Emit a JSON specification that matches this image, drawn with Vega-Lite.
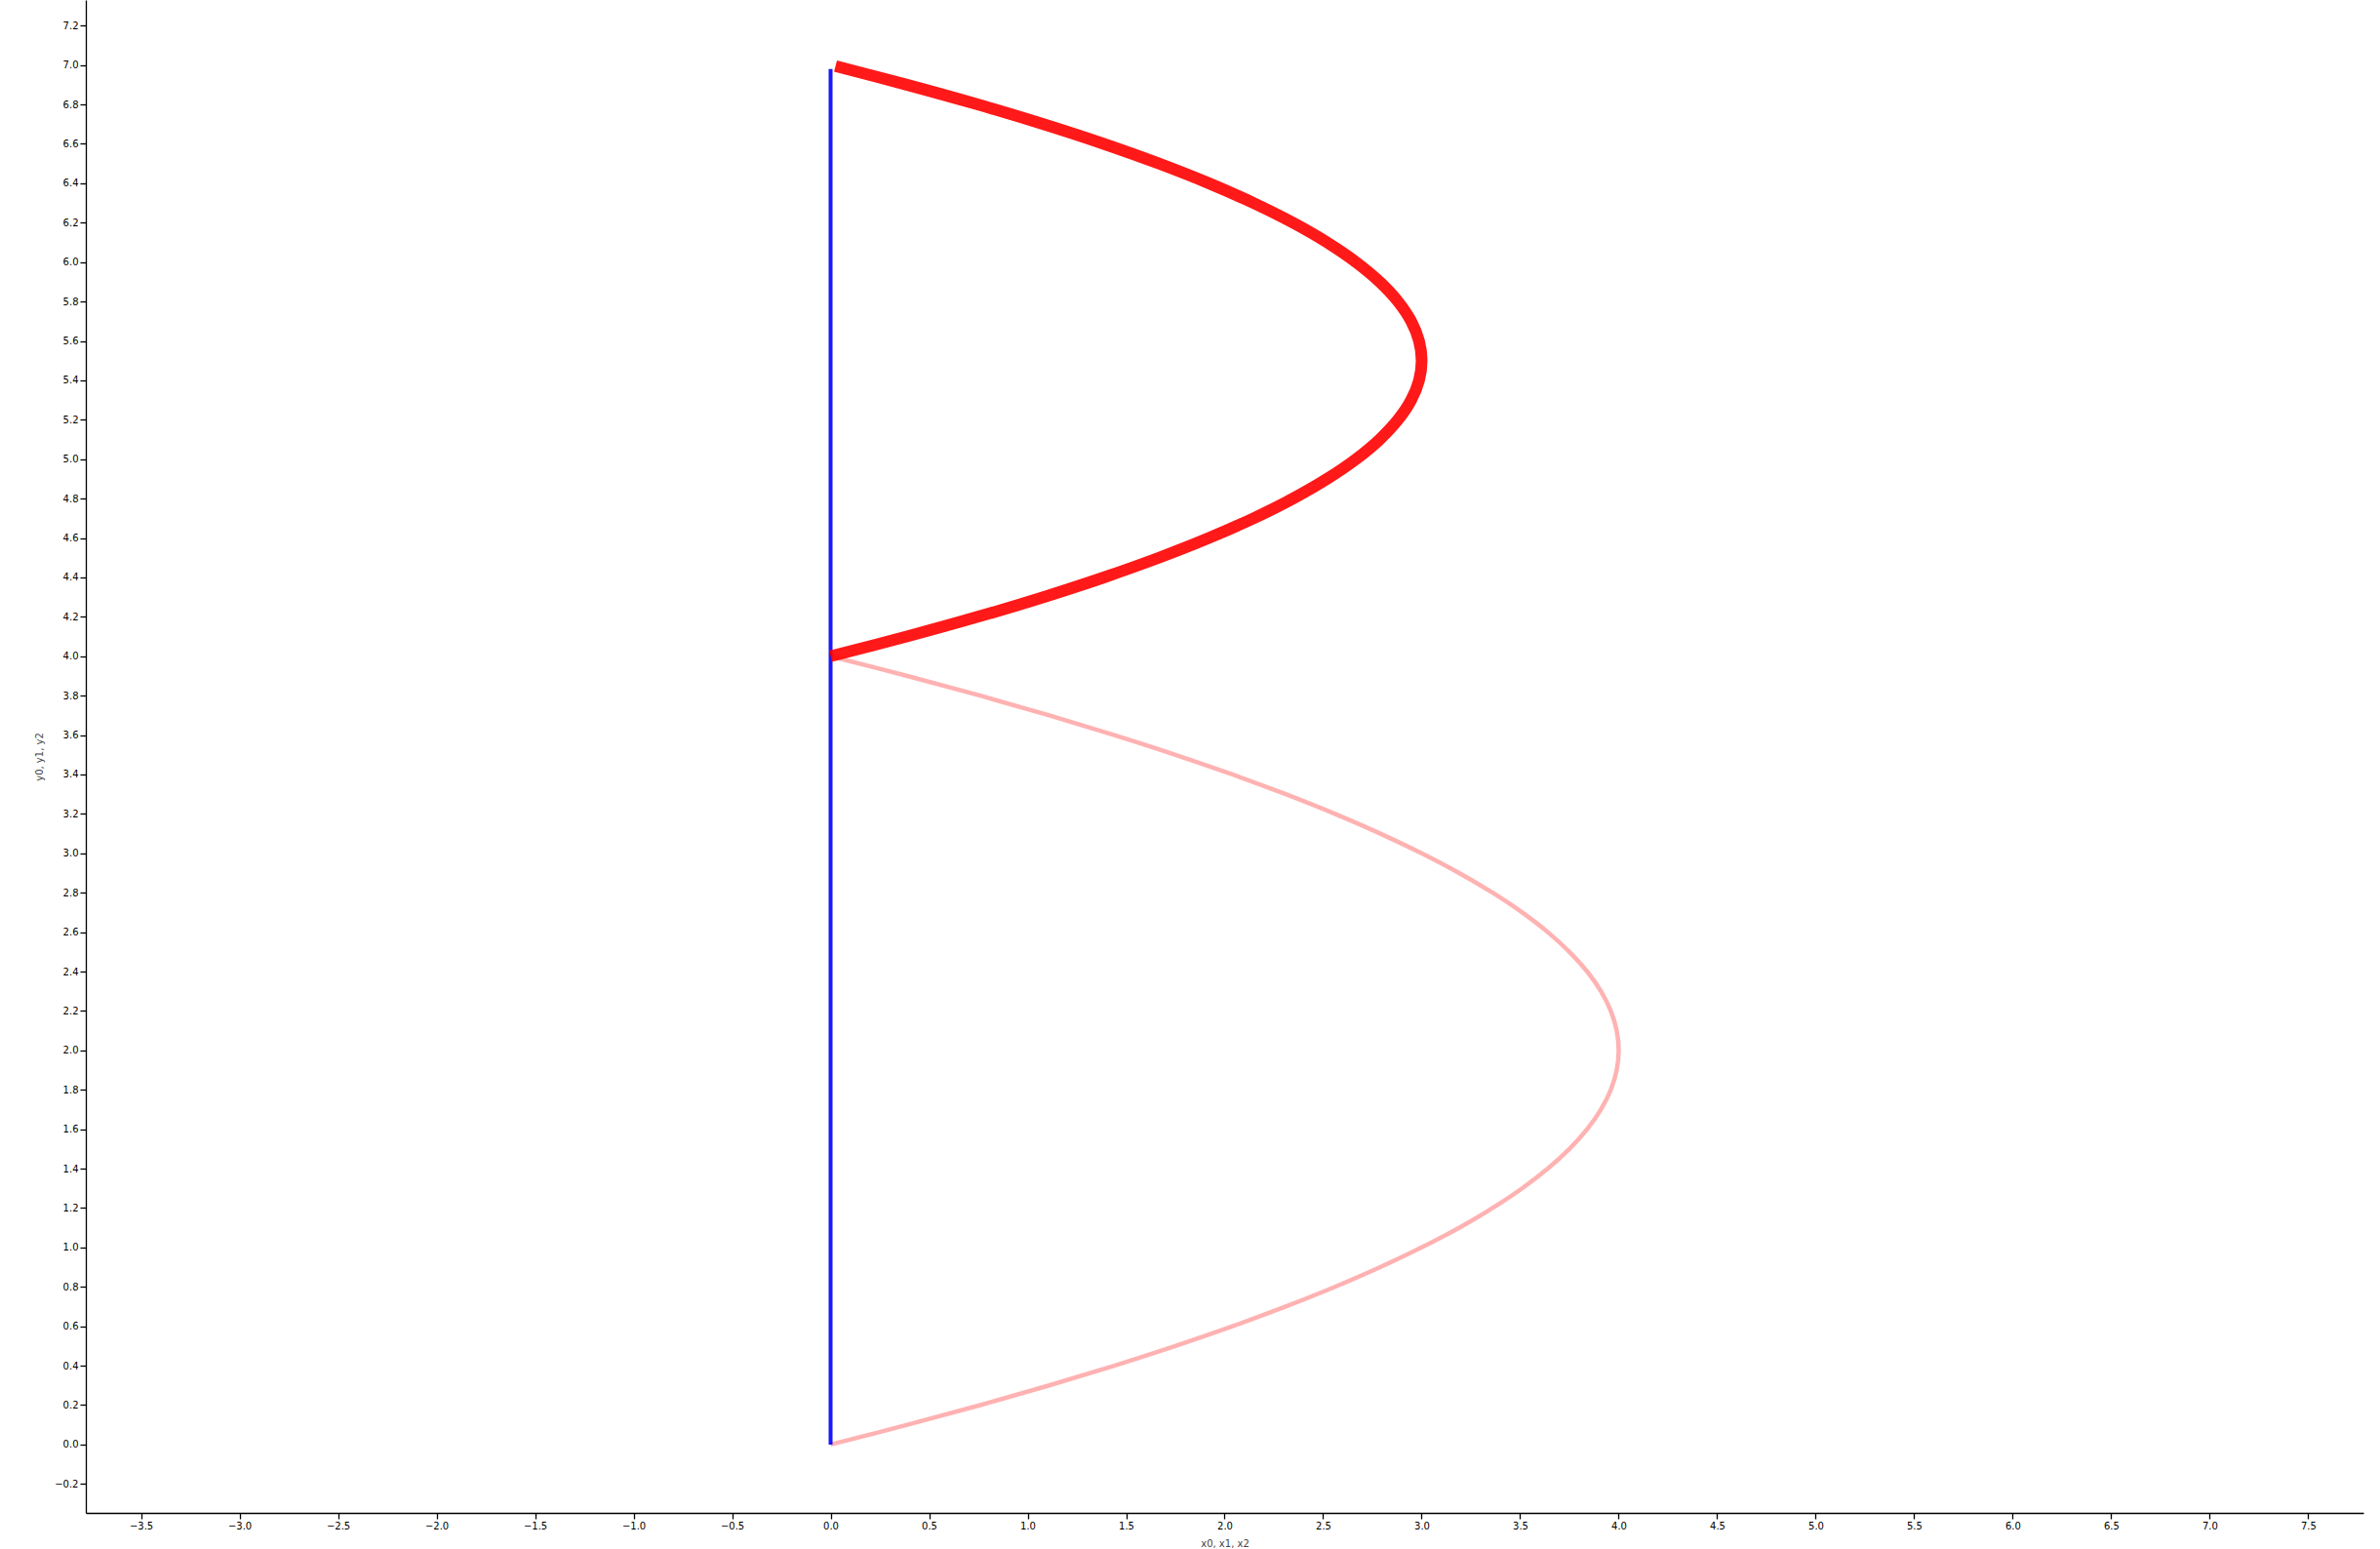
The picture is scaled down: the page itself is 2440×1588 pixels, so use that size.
{
  "$schema": "https://vega.github.io/schema/vega-lite/v6.json",
  "width": 2335,
  "height": 1551,
  "autosize": {"type": "none"},
  "padding": {"left": 88, "top": 0, "right": 17, "bottom": 37},
  "background": "white",
  "config": {
    "view": {"stroke": null},
    "axis": {
      "grid": false,
      "domainColor": "black",
      "domainWidth": 1.3,
      "tickColor": "black",
      "tickWidth": 1.3,
      "tickSize": 6,
      "labelFont": "DejaVu Sans",
      "labelFontSize": 10,
      "labelColor": "black",
      "labelPadding": 2,
      "titleFont": "DejaVu Sans",
      "titleFontSize": 10,
      "titleFontWeight": "normal",
      "titleColor": "#444444"
    }
  },
  "datasets": {
    "blue": [
      {"i": 0, "x": 0, "y": 0},
      {"i": 1, "x": 0, "y": 6.98}
    ],
    "pink": [
      {"i": 0, "x": 0, "y": 0}, {"i": 1, "x": 0.39, "y": 0.1}, {"i": 2, "x": 0.76, "y": 0.2}, {"i": 3, "x": 1.11, "y": 0.3},
      {"i": 4, "x": 1.44, "y": 0.4}, {"i": 5, "x": 1.75, "y": 0.5}, {"i": 6, "x": 2.04, "y": 0.6}, {"i": 7, "x": 2.31, "y": 0.7},
      {"i": 8, "x": 2.56, "y": 0.8}, {"i": 9, "x": 2.79, "y": 0.9}, {"i": 10, "x": 3.0, "y": 1.0}, {"i": 11, "x": 3.19, "y": 1.1},
      {"i": 12, "x": 3.36, "y": 1.2}, {"i": 13, "x": 3.51, "y": 1.3}, {"i": 14, "x": 3.64, "y": 1.4}, {"i": 15, "x": 3.75, "y": 1.5},
      {"i": 16, "x": 3.84, "y": 1.6}, {"i": 17, "x": 3.91, "y": 1.7}, {"i": 18, "x": 3.96, "y": 1.8}, {"i": 19, "x": 3.99, "y": 1.9},
      {"i": 20, "x": 4.0, "y": 2.0}, {"i": 21, "x": 3.99, "y": 2.1}, {"i": 22, "x": 3.96, "y": 2.2}, {"i": 23, "x": 3.91, "y": 2.3},
      {"i": 24, "x": 3.84, "y": 2.4}, {"i": 25, "x": 3.75, "y": 2.5}, {"i": 26, "x": 3.64, "y": 2.6}, {"i": 27, "x": 3.51, "y": 2.7},
      {"i": 28, "x": 3.36, "y": 2.8}, {"i": 29, "x": 3.19, "y": 2.9}, {"i": 30, "x": 3.0, "y": 3.0}, {"i": 31, "x": 2.79, "y": 3.1},
      {"i": 32, "x": 2.56, "y": 3.2}, {"i": 33, "x": 2.31, "y": 3.3}, {"i": 34, "x": 2.04, "y": 3.4}, {"i": 35, "x": 1.75, "y": 3.5},
      {"i": 36, "x": 1.44, "y": 3.6}, {"i": 37, "x": 1.11, "y": 3.7}, {"i": 38, "x": 0.76, "y": 3.8}, {"i": 39, "x": 0.39, "y": 3.9},
      {"i": 40, "x": 0, "y": 4.0}
    ],
    "red": [
      {"i": 0, "x": 0, "y": 4.0}, {"i": 1, "x": 0.3867, "y": 4.1}, {"i": 2, "x": 0.7467, "y": 4.2}, {"i": 3, "x": 1.08, "y": 4.3},
      {"i": 4, "x": 1.3867, "y": 4.4}, {"i": 5, "x": 1.6667, "y": 4.5}, {"i": 6, "x": 1.92, "y": 4.6}, {"i": 7, "x": 2.1467, "y": 4.7},
      {"i": 8, "x": 2.3467, "y": 4.8}, {"i": 9, "x": 2.52, "y": 4.9}, {"i": 10, "x": 2.6667, "y": 5.0}, {"i": 11, "x": 2.7867, "y": 5.1},
      {"i": 12, "x": 2.88, "y": 5.2}, {"i": 13, "x": 2.9467, "y": 5.3}, {"i": 14, "x": 2.9867, "y": 5.4}, {"i": 15, "x": 3.0, "y": 5.5},
      {"i": 16, "x": 2.9867, "y": 5.6}, {"i": 17, "x": 2.9467, "y": 5.7}, {"i": 18, "x": 2.88, "y": 5.8}, {"i": 19, "x": 2.7867, "y": 5.9},
      {"i": 20, "x": 2.6667, "y": 6.0}, {"i": 21, "x": 2.52, "y": 6.1}, {"i": 22, "x": 2.3467, "y": 6.2}, {"i": 23, "x": 2.1467, "y": 6.3},
      {"i": 24, "x": 1.92, "y": 6.4}, {"i": 25, "x": 1.6667, "y": 6.5}, {"i": 26, "x": 1.3867, "y": 6.6}, {"i": 27, "x": 1.08, "y": 6.7},
      {"i": 28, "x": 0.7467, "y": 6.8}, {"i": 29, "x": 0.3867, "y": 6.9}, {"i": 30, "x": 0.025, "y": 6.995}
    ]
  },
  "encoding": {
    "x": {
      "field": "x", "type": "quantitative",
      "scale": {"domain": [-3.78, 7.78], "nice": false, "zero": false},
      "axis": {
        "title": "x0, x1, x2",
        "values": [-3.5, -3, -2.5, -2, -1.5, -1, -0.5, 0, 0.5, 1, 1.5, 2, 2.5, 3, 3.5, 4, 4.5, 5, 5.5, 6, 6.5, 7, 7.5],
        "format": ".1f",
        "titlePadding": 8
      }
    },
    "y": {
      "field": "y", "type": "quantitative",
      "scale": {"domain": [-0.347, 7.33], "nice": false, "zero": false},
      "axis": {
        "title": "y0, y1, y2",
        "values": [-0.2, 0, 0.2, 0.4, 0.6, 0.8, 1, 1.2, 1.4, 1.6, 1.8, 2, 2.2, 2.4, 2.6, 2.8, 3, 3.2, 3.4, 3.6, 3.8, 4, 4.2, 4.4, 4.6, 4.8, 5, 5.2, 5.4, 5.6, 5.8, 6, 6.2, 6.4, 6.6, 6.8, 7, 7.2],
        "format": ".1f",
        "titlePadding": 10
      }
    },
    "order": {"field": "i", "type": "quantitative"}
  },
  "layer": [
    {
      "data": {"name": "pink"},
      "mark": {"type": "line", "color": "#ff0000", "opacity": 0.3, "strokeWidth": 4.5, "interpolate": "catmull-rom"}
    },
    {
      "data": {"name": "blue"},
      "mark": {"type": "line", "color": "#0000ff", "opacity": 0.9, "strokeWidth": 4}
    },
    {
      "data": {"name": "red"},
      "mark": {"type": "line", "color": "#ff0000", "opacity": 0.9, "strokeWidth": 12, "interpolate": "catmull-rom", "strokeCap": "butt"}
    }
  ]
}
